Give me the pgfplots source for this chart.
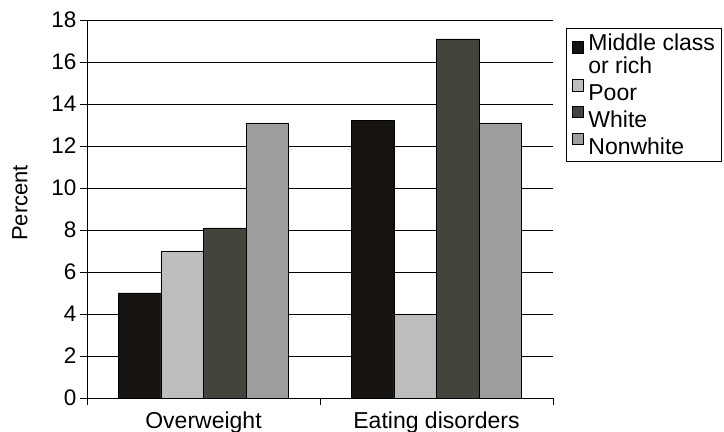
\documentclass[border=0pt]{standalone}
\usepackage{pgfplots}
\pgfplotsset{compat=1.18}
\usepackage{fontspec}
\setmainfont{Liberation Sans}
\definecolor{cA}{HTML}{151210}
\definecolor{cB}{HTML}{BDBDBD}
\definecolor{cC}{HTML}{43443C}
\definecolor{cD}{HTML}{9D9D9D}
\begin{document}
\begin{tikzpicture}
\begin{axis}[
  scale only axis, width=466pt, height=378pt,
  xmin=-0.5, xmax=1.5, ymin=0, ymax=18,
  axis lines*=left,
  axis line style={black, line width=0.9pt},
  ytick={0,2,...,18},
  ymajorgrids, grid style={black, line width=0.7pt},
  xtick={-0.5,0.5,1.5}, xticklabels={},
  extra x ticks={0,1},
  extra x tick labels={Overweight, Eating disorders},
  extra x tick style={major tick length=0pt, grid=none,
    tick label style={yshift=-10pt}},
  tick align=outside, major tick length=7pt,
  tick style={black, line width=0.9pt},
  /pgf/number format/assume math mode=true,
  tick label style={font=\fontsize{22.5}{22}\selectfont},
  x tick label style={font=\fontsize{23}{23}\selectfont},
  ylabel={Percent},
  ylabel style={font=\fontsize{22}{22}\selectfont, at={(axis description cs:-0.144,0.516)}, anchor=center},
  ybar=0pt, bar width=0.1825,
  every axis plot post/.append style={draw=black, line width=0.7pt,
    legend image code/.code={\path[draw=none,fill=none] (-2pt,0pt) -- (14pt,0pt);\draw[#1,draw=black,line width=0.6pt] (0pt,2pt) rectangle (11pt,13.5pt);}},
  legend style={at={(axis description cs:1.0279,0.979)}, anchor=north west,
    draw=black, line width=0.8pt, font=\fontsize{23}{23}\selectfont,
    cells={anchor=west, align=left}, inner xsep=4pt, inner ysep=4pt, row sep=2pt},
]
\addplot[fill=cA] coordinates {(0,5) (1,13.2)};
\addlegendentry{Middle class\\or rich}
\addplot[fill=cB] coordinates {(0,7) (1,4)};
\addlegendentry{Poor}
\addplot[fill=cC] coordinates {(0,8.1) (1,17.1)};
\addlegendentry{White}
\addplot[fill=cD] coordinates {(0,13.1) (1,13.1)};
\addlegendentry{Nonwhite}
\end{axis}
\pgfresetboundingbox
\path[use as bounding box] ([xshift=-87pt,yshift=-34pt]current axis.south west) rectangle ([xshift=171pt,yshift=20pt]current axis.north east);
\end{tikzpicture}
\end{document}
